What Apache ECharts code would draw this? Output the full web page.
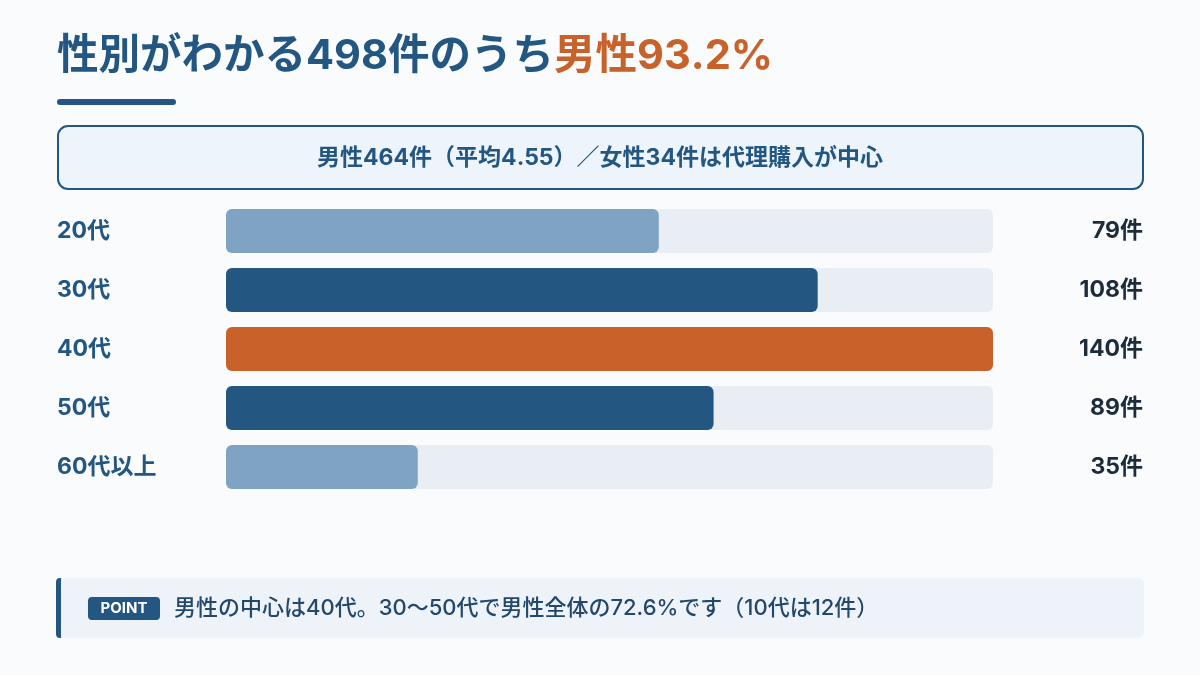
<!DOCTYPE html>
<html><head><meta charset="utf-8">
<script src="https://cdn.jsdelivr.net/npm/echarts@6/dist/echarts.min.js"></script>
<style>html,body{margin:0;padding:0;background:#f9fbfd}#c{width:1200px;height:675px}</style>
</head><body><div id="c"></div>
<script>
const categories = ['20代','30代','40代','50代','60代以上'];
const counts = [79,108,140,89,35];
const valueLabels = ['79件','108件','140件','89件','35件'];
const titleMain = '性別がわかる498件のうち';
const titleAccent = '男性93.2%';
const summaryText = '男性464件（平均4.55）／女性34件は代理購入が中心';
const pointTag = 'POINT';
const pointText = '男性の中心は40代。30〜50代で男性全体の72.6%です（10代は12件）';
const barColors = ['#7fa3c2','#235782','#c8612a','#235782','#7fa3c2'];

const FONT = 'Inter,"Noto Sans CJK JP","Noto Sans",sans-serif';
const chart = echarts.init(document.getElementById('c'), null, {renderer:'canvas'});
chart.setOption({
  backgroundColor:'#f9fbfd',
  textStyle:{fontFamily:FONT},
  grid:{left:226,right:207,top:201.5,height:295,containLabel:false},
  xAxis:{type:'value',min:0,max:'dataMax',show:false},
  yAxis:[
    {type:'category',data:categories,inverse:true,position:'left',
     axisLine:{show:false},axisTick:{show:false},splitLine:{show:false},
     axisLabel:{align:'left',margin:169,fontSize:23,fontWeight:'bold',color:'#235782',fontFamily:FONT}},
    {type:'category',data:valueLabels,inverse:true,position:'right',
     axisLine:{show:false},axisTick:{show:false},splitLine:{show:false},
     axisLabel:{align:'right',margin:150,fontSize:23,fontWeight:'bold',color:'#1e2b3a',fontFamily:FONT}}
  ],
  series:[{
    type:'bar',yAxisIndex:0,barWidth:44,
    data:counts.map((v,i)=>({value:v,itemStyle:{color:barColors[i]}})),
    itemStyle:{borderRadius:6},
    showBackground:true,
    backgroundStyle:{color:'#e9eef4',borderRadius:6},
    silent:true,animation:false
  }],
  animation:false,
  graphic:[
    {type:'text',left:57,top:36,style:{
      text:'{a|'+titleMain+'}{b|'+titleAccent+'}',
      rich:{a:{fontSize:41.5,fontWeight:'bold',fill:'#235782',fontFamily:FONT},
            b:{fontSize:41.5,fontWeight:'bold',fill:'#c8612a',fontFamily:FONT}}}},
    {type:'rect',shape:{x:57,y:99,width:119,height:6,r:3},style:{fill:'#235782'}},
    {type:'rect',shape:{x:58,y:126,width:1085,height:63,r:10},style:{fill:'#eef4fb',stroke:'#235782',lineWidth:2}},
    {type:'text',x:600,y:158,style:{text:summaryText,fontSize:23,fontWeight:'bold',fill:'#235782',
      align:'center',verticalAlign:'middle',fontFamily:FONT}},
    {type:'rect',shape:{x:56,y:578,width:1088,height:60,r:6},style:{fill:'#eef3f9'}},
    {type:'rect',shape:{x:56,y:578,width:5,height:60,r:[4,0,0,4]},style:{fill:'#235782'}},
    {type:'rect',shape:{x:88,y:597,width:72,height:23,r:4},style:{fill:'#235782'}},
    {type:'text',x:124,y:608.5,style:{text:pointTag,fontSize:15,fontWeight:'bold',fill:'#ffffff',
      align:'center',verticalAlign:'middle',fontFamily:FONT}},
    {type:'text',x:174,y:608,style:{text:pointText,fontSize:22,fontWeight:500,fill:'#23486c',
      align:'left',verticalAlign:'middle',fontFamily:FONT}}
  ]
});
</script></body></html>
